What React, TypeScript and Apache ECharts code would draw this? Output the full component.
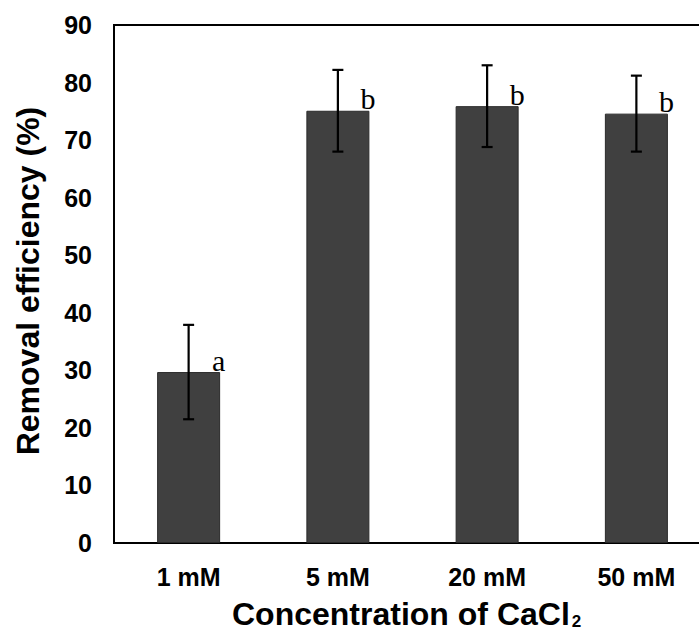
import React, { useEffect, useRef } from "react";
import * as echarts from "echarts";

const categories = ["1 mM", "5 mM", "20 mM", "50 mM"];
const means = [29.7, 75.1, 75.9, 74.6];
const errors = [8.2, 7.1, 7.1, 6.6];
const letters = ["a", "b", "b", "b"];
const yTicks = { min: 0, max: 90, interval: 10 };
const yTitle = "Removal efficiency (%)";
const xTitleMain = "Concentration of CaCl";
const xTitleSub = "2";

export default function App() {
  const ref = useRef<HTMLDivElement>(null);
  useEffect(() => {
    if (!ref.current) return;
    const chart = echarts.init(ref.current, null, { renderer: "svg" });
    const sans = "'Liberation Sans', Arial, sans-serif";
    const serif = "'Liberation Serif', 'Times New Roman', serif";
    const errData = means.map((m, i) => [i, m - errors[i], m + errors[i]]);
    const letterData = means.map((m, i) => [i, m]);
    chart.setOption({
      animation: false,
      backgroundColor: "#ffffff",
      grid: {
        left: 114,
        top: 25,
        width: 597,
        height: 518,
        show: true,
        borderColor: "#000",
        borderWidth: 2,
        backgroundColor: "transparent",
      },
      xAxis: {
        type: "category",
        data: categories,
        axisLine: { show: true, lineStyle: { color: "#000", width: 2 } },
        axisTick: { show: false },
        axisLabel: {
          color: "#000",
          fontFamily: sans,
          fontWeight: "bold",
          fontSize: 25,
          margin: 21,
        },
        splitLine: { show: false },
      },
      yAxis: {
        type: "value",
        min: yTicks.min,
        max: yTicks.max,
        interval: yTicks.interval,
        axisLine: { show: true, lineStyle: { color: "#000", width: 2 } },
        axisTick: { show: false },
        axisLabel: {
          color: "#000",
          fontFamily: sans,
          fontWeight: "bold",
          fontSize: 25,
          margin: 22,
        },
        splitLine: { show: false },
      },
      series: [
        {
          type: "bar",
          data: means,
          barWidth: 63,
          itemStyle: { color: "#404040", borderColor: "#2a2a2a", borderWidth: 1 },
        },
        {
          type: "custom",
          data: errData,
          encode: { x: 0, y: [1, 2] },
          z: 5,
          renderItem: (params: any, api: any) => {
            const x = api.value(0);
            const lo = api.coord([x, api.value(1)]);
            const hi = api.coord([x, api.value(2)]);
            const cx = lo[0];
            const cap = 5.5;
            const style = { stroke: "#000", lineWidth: 2.2 };
            return {
              type: "group",
              children: [
                { type: "line", shape: { x1: cx, y1: lo[1], x2: cx, y2: hi[1] }, style },
                { type: "line", shape: { x1: cx - cap, y1: hi[1], x2: cx + cap, y2: hi[1] }, style },
                { type: "line", shape: { x1: cx - cap, y1: lo[1], x2: cx + cap, y2: lo[1] }, style },
              ],
            };
          },
        },
        {
          type: "custom",
          data: letterData,
          encode: { x: 0, y: 1 },
          z: 6,
          renderItem: (params: any, api: any) => {
            const p = api.coord([api.value(0), api.value(1)]);
            return {
              type: "text",
              x: p[0] + 30,
              y: p[1] - 12,
              style: {
                text: letters[params.dataIndex],
                fontFamily: serif,
                fontSize: 30,
                fill: "#000",
                align: "center",
                verticalAlign: "middle",
              },
            };
          },
        },
      ],
      graphic: [
        {
          type: "text",
          x: 28,
          y: 281,
          rotation: Math.PI / 2,
          style: {
            text: yTitle,
            fontFamily: sans,
            fontWeight: "bold",
            fontSize: 32,
            fill: "#000",
            align: "center",
            verticalAlign: "middle",
          },
        },
        {
          type: "text",
          x: 232,
          y: 614,
          style: {
            text: "{m|" + xTitleMain + "}{s|" + xTitleSub + "}",
            align: "left",
            verticalAlign: "middle",
            rich: {
              m: {
                fontFamily: sans,
                fontWeight: "bold",
                fontSize: 32,
                lineHeight: 32,
                fill: "#000",
                color: "#000",
              },
              s: {
                fontFamily: sans,
                fontWeight: "bold",
                fontSize: 17,
                lineHeight: 17,
                verticalAlign: "bottom",
                fill: "#000",
                color: "#000",
                padding: [0, 0, 0, 2],
              },
            },
          },
        },
      ],
    });
    return () => chart.dispose();
  }, []);
  return (
    <div
      style={{
        position: "fixed",
        left: 0,
        top: 0,
        width: 699,
        height: 632,
        overflow: "hidden",
        background: "#fff",
      }}
    >
      <div ref={ref} style={{ width: 720, height: 632 }} />
    </div>
  );
}
